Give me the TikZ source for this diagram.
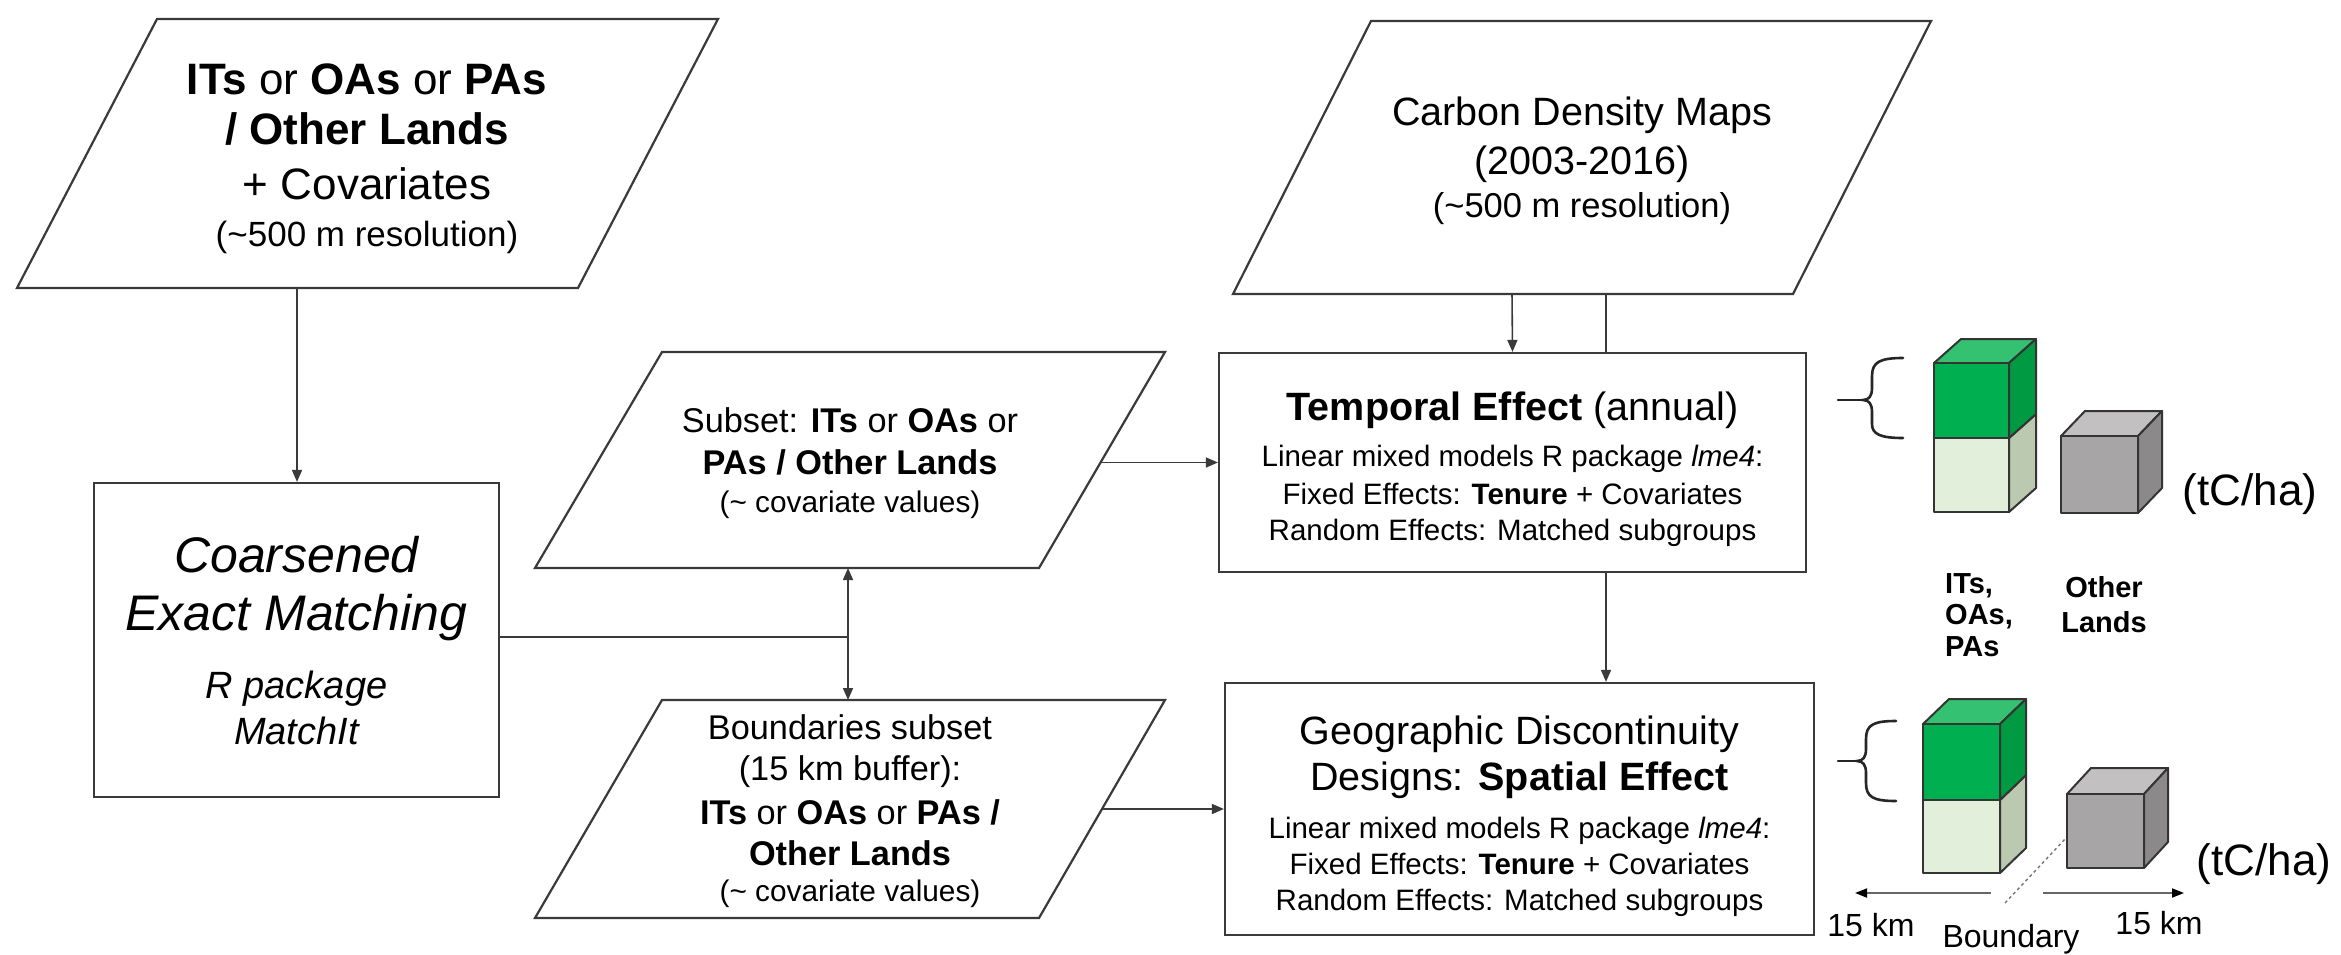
\documentclass[tikz,border=0pt]{standalone}
\usepackage{fontspec}
\setmainfont{Liberation Sans}
\usetikzlibrary{arrows.meta,calc}
\definecolor{ln}{HTML}{3A3A3A}
\definecolor{gDf}{HTML}{00B050}
\definecolor{gDt}{HTML}{34C172}
\definecolor{gDs}{HTML}{009A43}
\definecolor{gLf}{HTML}{E2EFDA}
\definecolor{gLt}{HTML}{EEF6E9}
\definecolor{gLs}{HTML}{BBC9B0}
\definecolor{grf}{HTML}{A7A5A5}
\definecolor{grt}{HTML}{C2C0C0}
\definecolor{grs}{HTML}{8B8989}
\newcommand\mycube[9]{%
  \filldraw[fill=#8,cubeline] (#1,#2) -- ++(#3,0) -- ++(#5,-#6) -- ++(-#3,0) -- cycle;
  \filldraw[fill=#9,cubeline] (#1+#3,#2) -- ++(#5,-#6) -- ++(0,#4) -- ++(-#5,#6) -- cycle;
  \filldraw[fill=#7,cubeline] (#1,#2) rectangle ++(#3,#4);}
\begin{document}
\begin{tikzpicture}[x=1pt,y=-1pt,
  box/.style={draw=ln,line width=2.2pt},
  conn/.style={draw=ln,line width=1.6pt},
  arr/.style={conn,-{Triangle[length=12pt,width=10pt]}},
  cubeline/.style={draw=ln!90!black,line width=2pt,line join=round},
  brace/.style={draw=black!85,line width=2.6pt,line cap=round},
  t/.style={anchor=base,inner sep=0pt,text=black},
  fA/.style={font=\fontsize{44}{52}\selectfont},
  fAs/.style={font=\fontsize{35}{42}\selectfont},
  fB/.style={font=\fontsize{39.5}{46}\selectfont},
  fBs/.style={font=\fontsize{34.5}{42}\selectfont},
  fC/.style={font=\fontsize{50}{60}\selectfont\itshape},
  fCs/.style={font=\fontsize{38}{46}\selectfont\itshape},
  fS/.style={font=\fontsize{34.3}{42}\selectfont},
  fSs/.style={font=\fontsize{29.8}{36}\selectfont},
  fM/.style={font=\fontsize{29.5}{36}\selectfont},
  fL/.style={font=\fontsize{29}{34}\selectfont\bfseries},
  fK/.style={font=\fontsize{32}{38}\selectfont},
  fT/.style={font=\fontsize{44}{52}\selectfont}]
\useasboundingbox (0,0) rectangle (2341,955);
\fill[white] (0,0) rectangle (2341,955);

% ---------- parallelogram A ----------
\coordinate (aTL) at (157,19); \coordinate (aTR) at (718,19);
\coordinate (aBR) at (578,288); \coordinate (aBL) at (17,288);
\draw[box] (aTL) -- (aTR) -- (aBR) -- (aBL) -- cycle;
\coordinate (aS) at (297,288);
\node[t,fA] (a1) at (367,95) {\textbf{ITs} or \textbf{OAs} or \textbf{PAs}};
\node[t,fA] (a2) at (367,145) {\textbf{/ Other Lands}};
\node[t,fA] (a3) at (367,199) {+ Covariates};
\node[t,fAs] (a4) at (367,246) {(\textasciitilde 500 m resolution)};

% ---------- parallelogram Carbon ----------
\coordinate (bTL) at (1371,21); \coordinate (bTR) at (1931,21);
\coordinate (bBR) at (1793,294); \coordinate (bBL) at (1233,294);
\draw[box] (bTL) -- (bTR) -- (bBR) -- (bBL) -- cycle;
\coordinate (bS1) at (1512,294); \coordinate (bS2) at (1606,294);
\node[t,fB] (b1) at (1582,126) {Carbon Density Maps};
\node[t,fB] (b2) at (1582,174) {(2003-2016)};
\node[t,fBs] (b3) at (1582,217) {(\textasciitilde 500 m resolution)};

% ---------- Coarsened Exact Matching ----------
\node[box,minimum width=405pt,minimum height=314pt,inner sep=0pt] (cem) at (296.5,640) {};
\node[t,fC] (c1) at (296.5,572) {Coarsened};
\node[t,fC] (c2) at (296.5,630) {Exact Matching};
\node[t,fCs] (c3) at (296.5,698) {R package};
\node[t,fCs] (c4) at (296.5,744) {MatchIt};

% ---------- Subset parallelogram ----------
\coordinate (sTL) at (662,352); \coordinate (sTR) at (1165,352);
\coordinate (sBR) at (1039,568); \coordinate (sBL) at (535,568);
\draw[box] (sTL) -- (sTR) -- (sBR) -- (sBL) -- cycle;
\coordinate (sS) at (848,568);
\coordinate (sE) at (1101,462.5);
\node[t,fS] (s1) at (850,432) {Subset: \textbf{ITs} or \textbf{OAs} or};
\node[t,fS] (s2) at (850,474) {\textbf{PAs / Other Lands}};
\node[t,fSs] (s3) at (850,512) {(\textasciitilde{} covariate values)};

% ---------- Boundaries parallelogram ----------
\coordinate (dTL) at (662,700); \coordinate (dTR) at (1165,700);
\coordinate (dBR) at (1039,918); \coordinate (dBL) at (535,918);
\draw[box] (dTL) -- (dTR) -- (dBR) -- (dBL) -- cycle;
\coordinate (dN) at (848,700);
\coordinate (dE) at (1101,809);
\node[t,fS] (d1) at (850,739) {Boundaries subset};
\node[t,fS] (d2) at (850,780) {(15 km buffer):};
\node[t,fS] (d3) at (850,824) {\textbf{ITs} or \textbf{OAs} or \textbf{PAs /}};
\node[t,fS] (d4) at (850,865) {\textbf{Other Lands}};
\node[t,fSs] (d5) at (850,901) {(\textasciitilde{} covariate values)};

% ---------- Temporal ----------
\node[box,minimum width=587pt,minimum height=219pt,inner sep=0pt] (temp) at (1512.5,462.5) {};
\node[t,fB] (t1) at (1512.5,420) {\textbf{Temporal Effect} (annual)};
\node[t,fM] (t2) at (1512.5,466) {Linear mixed models R package \textit{lme4}:};
\node[t,fM] (t3) at (1512.5,504) {Fixed Effects: \textbf{Tenure} + Covariates};
\node[t,fM] (t4) at (1512.5,540) {Random Effects: Matched subgroups};

% ---------- Geographic ----------
\node[box,minimum width=589pt,minimum height=252pt,inner sep=0pt] (geo) at (1519.5,809) {};
\node[t,fB] (g1) at (1519.5,744) {Geographic Discontinuity};
\node[t,fB] (g2) at (1519.5,790) {Designs: \textbf{Spatial Effect}};
\node[t,fM] (g3) at (1519.5,838) {Linear mixed models R package \textit{lme4}:};
\node[t,fM] (g4) at (1519.5,874) {Fixed Effects: \textbf{Tenure} + Covariates};
\node[t,fM] (g5) at (1519.5,910) {Random Effects: Matched subgroups};

% ---------- connectors ----------
\coordinate (J) at (848,637);
\draw[arr] (aS) -- (aS |- cem.north);
\draw[conn] (cem.east |- J) -- (J);
\draw[arr] (J) -- (sS);
\draw[arr] (J) -- (dN);
\draw[arr] (sE) -- (temp.west);
\draw[arr] (dE) -- (geo.west);
\draw[arr] (bS1) -- (temp.north);
\draw[conn] (bS2) -- (bS2 |- temp.north);
\draw[arr] (bS2 |- temp.south) -- (bS2 |- geo.north);

% ---------- right graphics: temporal ----------
\draw[brace] (1903,358) .. controls (1880,358) and (1872,362) .. (1872,376) -- (1872,388)
  .. controls (1872,396) and (1869,400) .. (1863,400)
  .. controls (1869,400) and (1872,404) .. (1872,412) -- (1872,424)
  .. controls (1872,434) and (1880,438) .. (1903,438);
\draw[brace] (1838,400) -- (1863,400);
\mycube{1934}{438}{75}{74}{27}{24}{gLf}{gLt}{gLs}
\mycube{1934}{363}{75}{75}{27}{24}{gDf}{gDt}{gDs}
\mycube{2061}{436}{77}{77}{24}{25}{grf}{grt}{grs}
\node[t,fT] (tc1) at (2250,505) {(tC/ha)};
\node[t,fL,anchor=base west] (l1) at (1945,593) {ITs,};
\node[t,fL,anchor=base west] (l2) at (1945,624) {OAs,};
\node[t,fL,anchor=base west] (l3) at (1945,656) {PAs};
\node[t,fL] (o1) at (2104,597) {Other};
\node[t,fL] (o2) at (2104,632) {Lands};

% ---------- right graphics: spatial ----------
\draw[brace] (1896,721) .. controls (1873,721) and (1866,725) .. (1866,739) -- (1866,749)
  .. controls (1866,757) and (1863,761) .. (1857,761)
  .. controls (1863,761) and (1866,765) .. (1866,773) -- (1866,783)
  .. controls (1866,797) and (1873,801) .. (1896,801);
\draw[brace] (1838,761) -- (1857,761);
\draw[ln!70,line width=1.4pt,dash pattern=on 3pt off 3pt] (2005,903) -- (2066,838);
\mycube{1923}{800}{77}{73}{26}{25}{gLf}{gLt}{gLs}
\mycube{1923}{724}{77}{76}{26}{25}{gDf}{gDt}{gDs}
\mycube{2067}{794}{77}{74}{24}{26}{grf}{grt}{grs}
\coordinate (k1) at (1991,893); \coordinate (k2) at (1855,893);
\coordinate (k3) at (2043,893); \coordinate (k4) at (2184,893);
\draw[draw=black!60,line width=1.8pt,-{Triangle[length=12pt,width=9pt,fill=black,color=black]}] (k1) -- (k2);
\draw[draw=black!60,line width=1.8pt,-{Triangle[length=12pt,width=9pt,fill=black,color=black]}] (k3) -- (k4);
\node[t,fT] (tc2) at (2264,875) {(tC/ha)};
\node[t,fK] (km1) at (1871,936) {15 km};
\node[t,fK] (km2) at (2159,934) {15 km};
\node[t,fK] (bd) at (2011,947) {Boundary};
\end{tikzpicture}
\end{document}
